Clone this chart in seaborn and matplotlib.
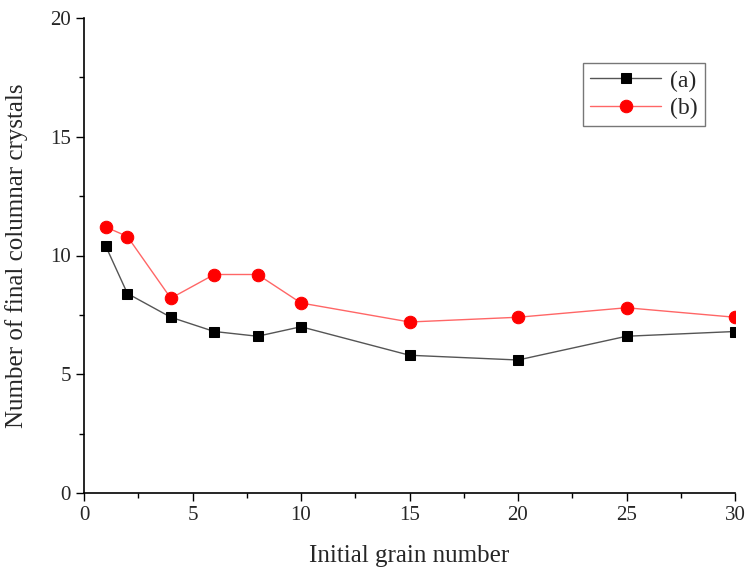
import pandas as pd
import matplotlib
matplotlib.use("Agg")
import matplotlib.pyplot as plt
import seaborn as sns
from matplotlib.ticker import MultipleLocator

# datos
grains = [1, 2, 4, 6, 8, 10, 15, 20, 25, 30]
crystals_a = [10.4, 8.4, 7.4, 6.8, 6.6, 7.0, 5.8, 5.6, 6.6, 6.8]
crystals_b = [11.2, 10.8, 8.2, 9.2, 9.2, 8.0, 7.2, 7.4, 7.8, 7.4]

sns.set_style("ticks")
plt.rcParams["font.family"] = ["Liberation Serif", "DejaVu Serif"]

fig = plt.figure(figsize=(7.46, 5.72), dpi=100)
ax = fig.add_axes([84 / 746, 1 - 493 / 572, (735 - 84) / 746, (493 - 18) / 572])

sns.lineplot(x=grains, y=crystals_a, ax=ax, color="#555555", lw=1.0, marker="s",
             markersize=7.5, markerfacecolor="black", markeredgecolor="black", label="(a)")
sns.lineplot(x=grains, y=crystals_b, ax=ax, color="#ff6666", lw=1.0, marker="o",
             markersize=9, markerfacecolor="red", markeredgecolor="red", label="(b)")

ax.set_xlim(0, 30)
ax.set_ylim(0, 20)
ax.xaxis.set_major_locator(MultipleLocator(5))
ax.xaxis.set_minor_locator(MultipleLocator(2.5))
ax.yaxis.set_major_locator(MultipleLocator(5))
ax.yaxis.set_minor_locator(MultipleLocator(2.5))
ax.tick_params(which="major", direction="out", length=6, width=1, labelsize=15, color="black")
ax.tick_params(which="minor", direction="out", length=3.5, width=1, color="black")
for s in ["left", "bottom"]:
    ax.spines[s].set_linewidth(1.2)
    ax.spines[s].set_color("black")
sns.despine(ax=ax)

ax.set_xlabel("Initial grain number", fontsize=18, labelpad=14)
ax.set_ylabel("Number of final columnar crystals", fontsize=18, labelpad=16)

leg = ax.legend(loc="upper left", bbox_to_anchor=(583 / 746, 1 - 63 / 572),
                bbox_transform=fig.transFigure, borderaxespad=0, fontsize=17,
                frameon=True, fancybox=False, edgecolor="#555555", handlelength=3.0,
                borderpad=0.3, labelspacing=0.25, handletextpad=0.4)
leg.get_frame().set_linewidth(1.0)

fig.savefig("out.png", dpi=100)
